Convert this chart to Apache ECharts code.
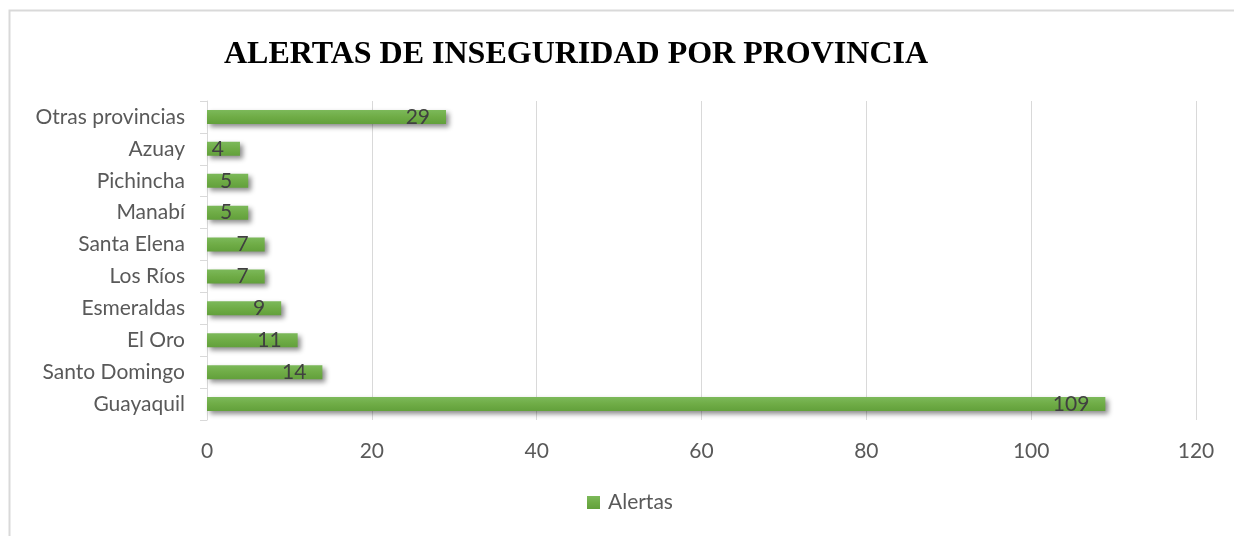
<!DOCTYPE html>
<html><head><meta charset="utf-8">
<script src="https://cdn.jsdelivr.net/npm/echarts@6/dist/echarts.min.js"></script>
<style>html,body{margin:0;padding:0;background:#fff}#c{width:1234px;height:536px}</style>
</head><body><div id="c"></div>
<script>
const categories = ['Guayaquil','Santo Domingo','El Oro','Esmeraldas','Los Ríos','Santa Elena','Manabí','Pichincha','Azuay','Otras provincias'];
const alertas = [109,14,11,9,7,7,5,5,4,29];
const xTicks = {min:0,max:120,interval:20};
const titleText = 'ALERTAS DE INSEGURIDAD POR PROVINCIA';
const seriesName = 'Alertas';

const chart = echarts.init(document.getElementById('c'), null, {renderer:'canvas'});
const font = 'Lato, "Open Sans", sans-serif';
chart.setOption({
  animation:false,
  graphic:[{type:'rect',shape:{x:9.5,y:10.5,width:1240,height:540},style:{fill:'none',stroke:'#d9d9d9',lineWidth:2},silent:true,z:-1}],
  title:{text:titleText,left:571,textAlign:'center',top:34,textStyle:{fontFamily:'"Liberation Serif", "Times New Roman", serif',fontWeight:'bold',fontSize:32,color:'#000'}},
  grid:{left:207,right:38,top:101,bottom:116,containLabel:false},
  legend:{bottom:18,left:582,itemWidth:13,itemHeight:13,itemGap:8,icon:'rect',textStyle:{fontFamily:font,fontSize:21,color:'#595959',padding:[0,0,0,3]},data:[seriesName]},
  xAxis:{type:'value',min:xTicks.min,max:xTicks.max,interval:xTicks.interval,
    axisLine:{show:false},axisTick:{show:false},
    splitLine:{lineStyle:{color:'#d9d9d9',width:1}},
    axisLabel:{margin:21,fontFamily:font,fontSize:21,color:'#595959'}},
  yAxis:{type:'category',data:categories,
    axisLine:{lineStyle:{color:'#d9d9d9',width:1}},
    axisTick:{show:true,length:7,lineStyle:{color:'#d9d9d9'}},
    axisLabel:{margin:22,fontFamily:font,fontSize:21,color:'#595959'}},
  series:[{name:seriesName,type:'bar',data:alertas,barWidth:14,
    itemStyle:{color:new echarts.graphic.LinearGradient(0,0,0,1,[{offset:0,color:'#7cb95a'},{offset:0.5,color:'#6fac46'},{offset:1,color:'#62a03b'}]),
      shadowColor:'rgba(0,0,0,0.45)',shadowBlur:5,shadowOffsetX:3,shadowOffsetY:3},
    label:{show:true,position:'insideRight',distance:16,fontFamily:font,fontSize:21,color:'#404040'}}]
});
</script></body></html>
